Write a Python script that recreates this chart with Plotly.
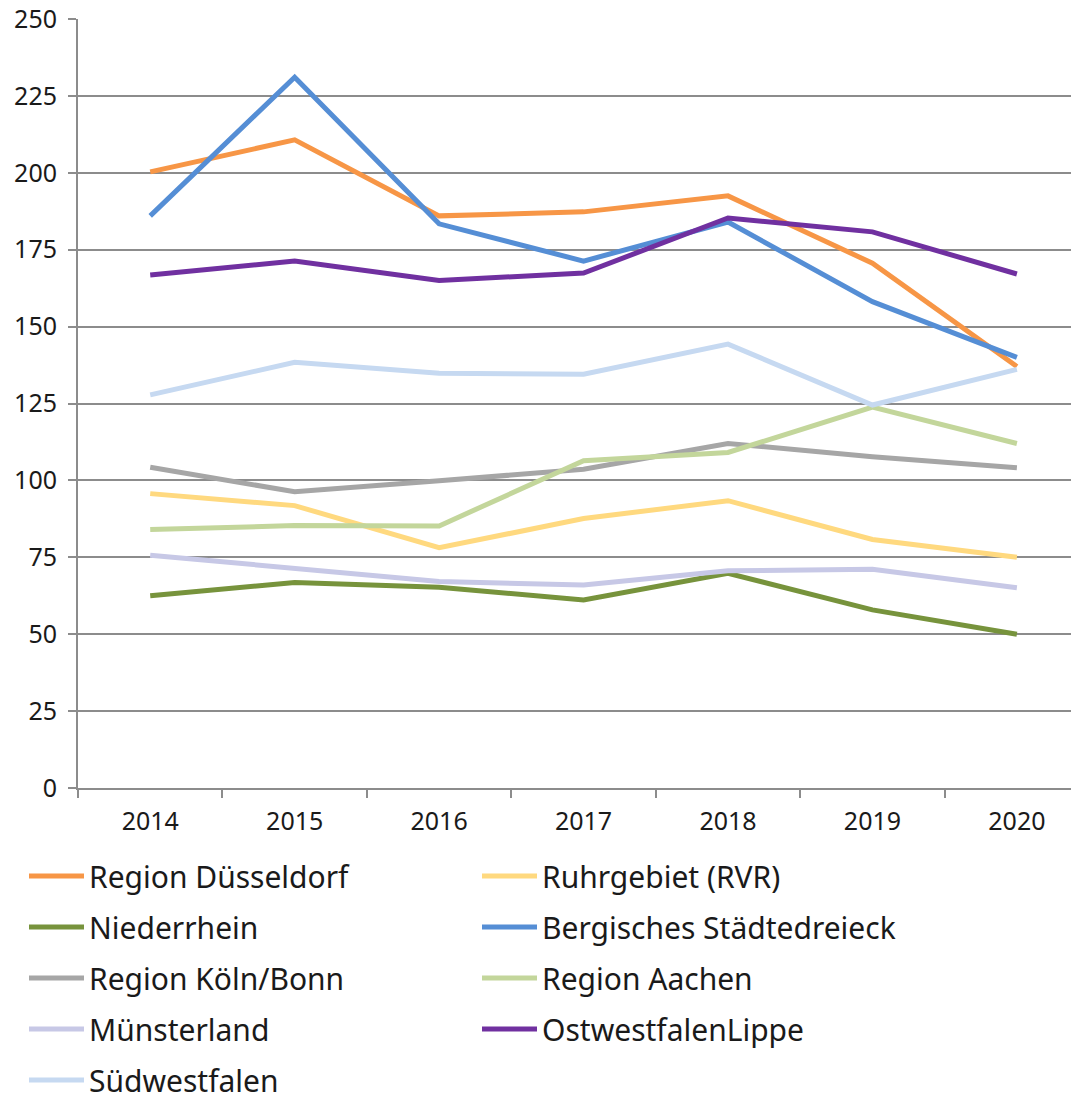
import plotly.graph_objects as go

years = ['2014', '2015', '2016', '2017', '2018', '2019', '2020']

duesseldorf = [200.3, 210.7, 186.0, 187.3, 192.5, 170.6, 137.0]
ruhrgebiet = [95.7, 91.8, 78.1, 87.6, 93.4, 80.8, 75.0]
niederrhein = [62.5, 66.8, 65.3, 61.1, 69.8, 57.9, 50.0]
bergisches = [186.0, 231.1, 183.4, 171.3, 184.0, 158.1, 140.0]
koeln_bonn = [104.3, 96.3, 99.9, 103.6, 112.0, 107.7, 104.1]
aachen = [84.0, 85.3, 85.2, 106.4, 109.1, 123.8, 112.0]
muensterland = [75.7, 71.4, 67.1, 66.0, 70.6, 71.1, 65.1]
owl = [166.8, 171.3, 165.0, 167.4, 185.3, 180.8, 167.1]
suedwestfalen = [127.8, 138.4, 134.8, 134.5, 144.3, 124.5, 136.1]

series = [
    ('Region Düsseldorf', duesseldorf, '#F79646'),
    ('Ruhrgebiet (RVR)', ruhrgebiet, '#FFD97F'),
    ('Niederrhein', niederrhein, '#77933C'),
    ('Bergisches Städtedreieck', bergisches, '#558ED5'),
    ('Region Köln/Bonn', koeln_bonn, '#A6A6A6'),
    ('Region Aachen', aachen, '#C3D69B'),
    ('Münsterland', muensterland, '#C7C8E6'),
    ('OstwestfalenLippe', owl, '#7030A0'),
    ('Südwestfalen', suedwestfalen, '#C6D9F1'),
]

W, H = 1071, 1089  # page has an 8px body margin

fig = go.Figure()
legends = {}
for i, (name, vals, color) in enumerate(series):
    key = 'legend' if i == 0 else 'legend%d' % (i + 1)
    fig.add_trace(go.Scatter(
        x=years, y=vals, mode='lines', name=name, showlegend=True,
        line=dict(color=color, width=5), legend=key,
    ))
    # two columns, five rows below the plot
    col, row = i % 2, i // 2
    left = 16 + col * 453
    centre = 868 + row * 51
    legends[key] = dict(
        xref='container', yref='container',
        x=left / W, y=1 - centre / H, xanchor='left', yanchor='middle',
        font=dict(size=30), itemwidth=55, bgcolor='rgba(0,0,0,0)',
    )

fig.update_layout(
    width=W, height=H, showlegend=True,
    paper_bgcolor='white', plot_bgcolor='white',
    margin=dict(l=70, r=0, t=11, b=309, autoexpand=False),
    font=dict(family='Noto Sans', color='#1a1a1a', size=25),
    **legends,
)

fig.update_xaxes(
    type='category', range=[-0.5, 6.43],
    showline=True, linecolor='#8c8c8c', linewidth=2,
    ticks='outside', tickson='boundaries', ticklen=8, tickcolor='#8c8c8c', tickwidth=2,
    showgrid=False, tickfont=dict(size=25), tickangle=0, ticklabelstandoff=10,
)
fig.update_yaxes(
    range=[0, 250], dtick=25,
    showline=True, linecolor='#8c8c8c', linewidth=2,
    ticks='outside', ticklen=8, tickcolor='#8c8c8c', tickwidth=2,
    showgrid=True, gridcolor='#8c8c8c', gridwidth=2,
    zeroline=False, tickfont=dict(size=25), ticklabeloverflow='allow',
    ticklabelstandoff=6,
)

fig.write_html('out.html')
